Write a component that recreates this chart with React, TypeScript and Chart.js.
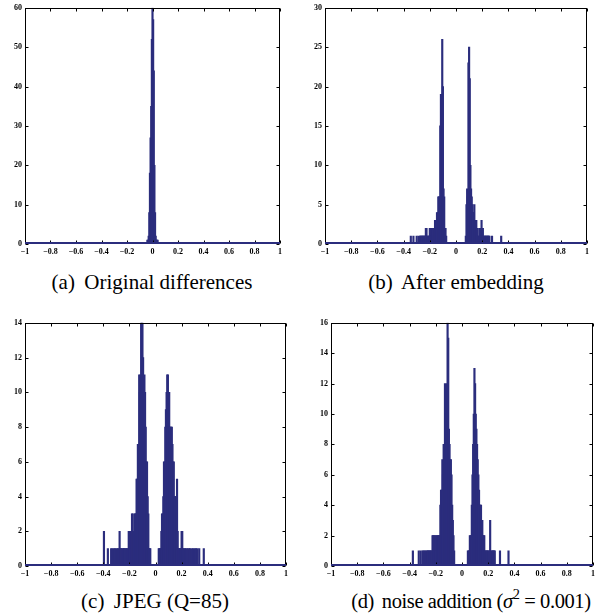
import React, { useEffect, useRef } from "react";
import { Chart, registerables } from "chart.js";
Chart.register(...registerables);

// ---------- data (bin centres and counts, bin width 0.005) ----------
const aBins = [-0.04, -0.035, -0.03, -0.025, -0.02, -0.015, -0.01, -0.005, 0, 0.005, 0.01, 0.015, 0.02, 0.025, 0.03, 0.035, 0.04];
const aCounts = [1, 1, 2, 8, 18, 27, 35, 52, 60, 57, 44, 20, 8, 2, 1, 1, 1];

const bBins = [
  -0.345, -0.325, -0.3, -0.285, -0.275, -0.27, -0.265, -0.26, -0.255, -0.25, -0.245, -0.24, -0.235, -0.23, -0.225, -0.22, -0.215, -0.21, -0.205,
  -0.2, -0.195, -0.19, -0.185, -0.18, -0.175, -0.17, -0.165, -0.16, -0.155, -0.15, -0.145, -0.14, -0.135, -0.13, -0.125, -0.12, -0.115, -0.11,
  -0.105, -0.1, -0.095, -0.09, -0.085, -0.08, -0.075,
  0.075, 0.08, 0.085, 0.09, 0.095, 0.1, 0.105, 0.11, 0.115, 0.12, 0.125, 0.13, 0.135, 0.14, 0.145, 0.15, 0.155, 0.16, 0.165, 0.17, 0.175,
  0.18, 0.185, 0.19, 0.195, 0.2, 0.205, 0.21, 0.215, 0.22, 0.225, 0.23, 0.235, 0.24, 0.245, 0.25, 0.255, 0.275, 0.345,
];
const bCounts = [
  1, 1, 1, 1, 1, 1, 1, 1, 1, 1, 1, 1, 1, 2, 2, 1, 1, 1, 1,
  2, 2, 2, 1, 2, 2, 1, 2, 3, 3, 2, 4, 4, 6, 6, 6, 15, 19, 19,
  26, 20, 7, 6, 2, 2, 1,
  1, 5, 7, 6, 23, 25, 21, 10, 7, 6, 5, 4, 4, 5, 3, 3, 3, 2, 2, 1, 1,
  2, 2, 1, 3, 2, 2, 1, 1, 1, 1, 1, 1, 1, 1, 1, 1, 1, 1,
];

const cBins = [
  -0.395, -0.365, -0.34, -0.33, -0.32, -0.31, -0.3, -0.29, -0.285, -0.275, -0.27, -0.265, -0.26, -0.25, -0.245, -0.24, -0.235, -0.225, -0.22,
  -0.215, -0.205, -0.2, -0.195, -0.19, -0.185, -0.18, -0.175, -0.17, -0.165, -0.16, -0.155, -0.15, -0.145, -0.14, -0.135, -0.13, -0.125,
  -0.12, -0.115, -0.11, -0.105, -0.1, -0.095, -0.09, -0.085, -0.08, -0.075, -0.07, -0.065, -0.06, -0.055, -0.05, -0.045, -0.04,
  0.025, 0.03, 0.035, 0.04, 0.045, 0.05, 0.055, 0.06, 0.065, 0.07, 0.075, 0.08, 0.085, 0.09, 0.095, 0.1, 0.105, 0.11, 0.115, 0.12, 0.125,
  0.13, 0.135, 0.14, 0.145, 0.15, 0.155, 0.16, 0.165, 0.17, 0.175, 0.18, 0.185, 0.19, 0.195, 0.2, 0.205, 0.21, 0.215, 0.225, 0.23, 0.24,
  0.25, 0.26, 0.265, 0.28, 0.29, 0.3, 0.31, 0.32, 0.335, 0.37,
];
const cCounts = [
  2, 1, 1, 1, 1, 1, 1, 1, 1, 2, 1, 1, 1, 1, 1, 1, 1, 1, 1,
  1, 2, 2, 2, 1, 2, 3, 3, 2, 2, 3, 3, 3, 5, 5, 7, 7, 11,
  10, 11, 14, 14, 14, 12, 10, 11, 10, 8, 6, 6, 4, 3, 1, 1, 1,
  1, 1, 1, 1, 2, 3, 3, 4, 6, 6, 8, 9, 10, 11, 11, 10, 10, 8, 8, 8, 8,
  7, 6, 6, 4, 4, 4, 3, 5, 2, 1, 1, 1, 1, 1, 2, 2, 1, 1, 1, 1, 1,
  1, 1, 1, 1, 1, 1, 1, 1, 1, 1,
];

const dBins = [
  -0.375, -0.33, -0.315, -0.3, -0.295, -0.285, -0.28, -0.27, -0.265, -0.26, -0.255, -0.25, -0.245, -0.24, -0.235, -0.23, -0.225, -0.22,
  -0.215, -0.21, -0.205, -0.2, -0.195, -0.19, -0.185, -0.18, -0.175, -0.17, -0.165, -0.16, -0.155, -0.15, -0.145, -0.14, -0.135, -0.13,
  -0.125, -0.12, -0.115, -0.11, -0.105, -0.1, -0.095, -0.09, -0.085, -0.08, -0.075, -0.07, -0.065, -0.06,
  0.045, 0.05, 0.055, 0.06, 0.065, 0.07, 0.075, 0.08, 0.085, 0.09, 0.095, 0.1, 0.105, 0.11, 0.115, 0.12, 0.125, 0.13, 0.135, 0.14, 0.145,
  0.15, 0.155, 0.16, 0.165, 0.17, 0.175, 0.18, 0.185, 0.19, 0.195, 0.2, 0.205, 0.215, 0.225, 0.23, 0.235, 0.24, 0.245, 0.25, 0.29, 0.355,
];
const dCounts = [
  1, 1, 1, 1, 1, 1, 1, 1, 1, 1, 1, 1, 1, 1, 1, 1, 2, 2,
  2, 1, 2, 2, 1, 2, 2, 2, 2, 2, 4, 5, 5, 7, 6, 8, 8, 12,
  10, 10, 12, 16, 15, 9, 8, 7, 7, 6, 4, 3, 2, 1,
  1, 1, 1, 2, 2, 2, 4, 6, 8, 10, 13, 12, 10, 9, 8, 7, 6, 5, 4, 4, 4,
  3, 3, 2, 2, 2, 1, 1, 1, 1, 1, 1, 1, 3, 1, 1, 1, 1, 1, 1, 1, 1,
];

const xMin = -1;
const xMax = 1;
const xStep = 0.2;

const NAVY = "#2b2d7d";
const FONT = "'Liberation Serif', 'Times New Roman', serif";

type PanelSpec = {
  bins: number[];
  counts: number[];
  yMax: number;
  yStep: number;
  left: number;
  top: number;
  width: number;
  height: number;
  padRight: number;
  xHeight: number;
};

const framePlugin = {
  id: "matlabFrame",
  afterDatasetsDraw(chart: any) {
    const { ctx, chartArea } = chart;
    const xs = chart.scales.x;
    const ys = chart.scales.y;
    const l = Math.round(chartArea.left) + 0.5;
    const r = Math.round(chartArea.right) - 0.5;
    const t = Math.round(chartArea.top) + 0.5;
    const b = Math.round(chartArea.bottom) - 0.5;
    ctx.save();
    ctx.strokeStyle = "#000";
    ctx.lineWidth = 1;
    ctx.strokeRect(l, t, r - l, b - t);
    const tl = 3;
    ctx.beginPath();
    xs.ticks.forEach((tk: any) => {
      const px = Math.round(xs.getPixelForValue(tk.value)) + 0.5;
      ctx.moveTo(px, b);
      ctx.lineTo(px, b - tl);
      ctx.moveTo(px, t);
      ctx.lineTo(px, t + tl);
    });
    ys.ticks.forEach((tk: any) => {
      const py = Math.round(ys.getPixelForValue(tk.value)) + 0.5;
      ctx.moveTo(l, py);
      ctx.lineTo(l + tl, py);
      ctx.moveTo(r, py);
      ctx.lineTo(r - tl, py);
    });
    ctx.stroke();
    // zero-count baseline of the histogram
    ctx.strokeStyle = NAVY;
    ctx.lineWidth = 2;
    ctx.beginPath();
    ctx.moveTo(xs.getPixelForValue(xMin), b - 0.5);
    ctx.lineTo(xs.getPixelForValue(xMax), b - 0.5);
    ctx.stroke();
    ctx.restore();
  },
};

function fmtX(v: number) {
  const n = Math.round(v * 10) / 10;
  if (n === 0) return "0";
  return n < 0 ? "\u2212" + String(Math.abs(n)) : String(n);
}

function Panel({ spec }: { spec: PanelSpec }) {
  const ref = useRef<HTMLCanvasElement | null>(null);
  useEffect(() => {
    if (!ref.current) return;
    const chart = new Chart(ref.current, {
      type: "bar",
      data: {
        datasets: [
          {
            data: spec.bins.map((x, i) => ({ x, y: spec.counts[i] })),
            backgroundColor: NAVY,
            borderWidth: 0,
            barThickness: 1.5,
          } as any,
        ],
      },
      options: {
        animation: false,
        responsive: false,
        devicePixelRatio: 1,
        layout: { padding: { top: 7, right: spec.padRight, left: 0, bottom: 0 } },
        plugins: { legend: { display: false }, tooltip: { enabled: false }, title: { display: false } },
        scales: {
          x: {
            type: "linear",
            min: xMin,
            max: xMax,
            offset: false,
            grid: { display: false, drawTicks: false },
            border: { display: false },
            afterFit: (s: any) => {
              s.height = spec.xHeight;
            },
            ticks: {
              stepSize: xStep,
              autoSkip: false,
              maxRotation: 0,
              padding: 3,
              color: "#000",
              font: { family: FONT, size: 8, weight: "bold" },
              callback: (v: any) => fmtX(Number(v)),
            },
          },
          y: {
            min: 0,
            max: spec.yMax,
            grid: { display: false, drawTicks: false },
            border: { display: false },
            afterFit: (s: any) => {
              s.width = 25;
            },
            ticks: {
              stepSize: spec.yStep,
              autoSkip: false,
              padding: 3,
              color: "#000",
              font: { family: FONT, size: 8, weight: "bold" },
            },
          },
        },
      } as any,
      plugins: [framePlugin],
    });
    return () => chart.destroy();
  }, [spec]);
  return (
    <canvas
      ref={ref}
      width={spec.width}
      height={spec.height}
      style={{ position: "absolute", left: spec.left, top: spec.top, width: spec.width, height: spec.height }}
    />
  );
}

const panels: PanelSpec[] = [
  { bins: aBins, counts: aCounts, yMax: 60, yStep: 10, left: 0, top: 0, width: 300, height: 262, padRight: 20, xHeight: 18 },
  { bins: bBins, counts: bCounts, yMax: 30, yStep: 5, left: 300, top: 0, width: 313, height: 262, padRight: 26, xHeight: 18 },
  { bins: cBins, counts: cCounts, yMax: 14, yStep: 2, left: 0, top: 315, width: 300, height: 270, padRight: 14, xHeight: 19 },
  { bins: dBins, counts: dCounts, yMax: 16, yStep: 2, left: 306, top: 315, width: 307, height: 270, padRight: 20, xHeight: 19 },
];

const capStyle = (cx: number, top: number, extra?: React.CSSProperties): React.CSSProperties => ({
  position: "absolute",
  left: cx - 200,
  top,
  width: 400,
  textAlign: "center",
  fontFamily: FONT,
  fontSize: 21,
  lineHeight: "24px",
  whiteSpace: "nowrap",
  color: "#000",
  ...(extra || {}),
});

export default function App() {
  return (
    <div style={{ position: "fixed", left: 0, top: 0, width: 613, height: 616, background: "#fff", overflow: "hidden" }}>
      {panels.map((p, i) => (
        <Panel key={i} spec={p} />
      ))}
      <div style={capStyle(152, 270)}>
        <span style={{ marginRight: "0.2em" }}>(a)</span> Original differences
      </div>
      <div style={capStyle(456, 270)}>
        <span style={{ marginRight: "0.2em" }}>(b)</span> After embedding
      </div>
      <div style={capStyle(155, 589)}>
        <span style={{ marginRight: "0.2em" }}>(c)</span> JPEG (Q=85)
      </div>
      <div style={capStyle(471, 589, { letterSpacing: "-0.4px", fontSize: 20.5 })}>
        <span style={{ marginRight: "0.15em" }}>(d)</span> noise addition (<i>σ</i>
        <sup style={{ fontSize: "0.7em", verticalAlign: "0.6em", lineHeight: 0 }}>2</sup> = 0.001)
      </div>
    </div>
  );
}
